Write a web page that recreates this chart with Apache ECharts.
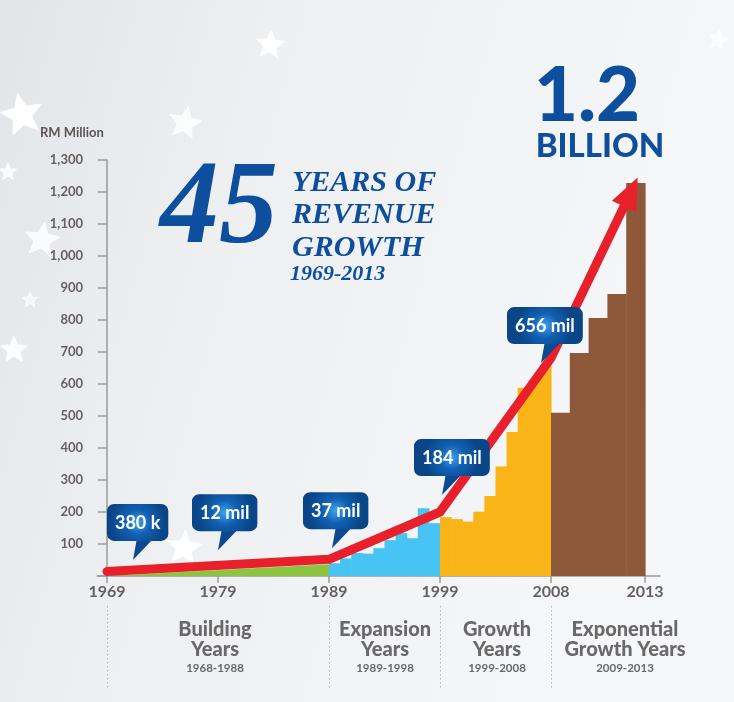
<!DOCTYPE html>
<html><head><meta charset="utf-8">
<script src="https://cdn.jsdelivr.net/npm/echarts@6/dist/echarts.min.js"></script>
<style>html,body{margin:0;padding:0;background:#f3f4f5}#c{width:734px;height:702px}</style>
</head><body><div id="c"></div>
<script>
// ---------------- DATA ----------------
const tickLabels = ['1969','1979','1989','1999','2008','2013'];
const buildingYears = ['1969','1989'];
const buildingValues = [0.38, 37];
const expansionYears = ['1989','1990','1991','1992','1993','1994','1995','1996','1997','1998'];
const expansionValues = [40, 55, 72, 70, 87, 112, 134, 118, 212, 165];
const growthYears = ['1999','2000','2001','2002','2003','2004','2005','2006','2007','2008'];
const growthValues = [184, 178, 170, 201, 250, 342, 450, 588, 612, 656];
const exponentialYears = ['2009','2010','2011','2012','2013'];
const exponentialValues = [510, 697, 806, 881, 1228];
const trendYears = ['1969','1989','1999','2008','2013'];
const trendValues = [14, 52, 200, 681, 1200];
const calloutYears = ['1969','1979','1989','1999','2008'];
const calloutValues = [0.38, 12, 37, 184, 656];
const calloutLabels = ['380 k','12 mil','37 mil','184 mil','656 mil'];
const eraNames = [['Building','Years'],['Expansion','Years'],['Growth','Years'],['Exponential','Growth Years']];
const eraRanges = ['1968-1988','1989-1998','1999-2008','2009-2013'];

// ---------------- LAYOUT / STYLE ----------------
const POS = {'1969':0,'1979':10,'1989':20,'1999':30,'2008':40,'2013':48.47};
const ARROW_INSET = 1.27;
const BLUE = '#0d4f9e', RED = '#e8202b', GREEN = '#8cc43f', SKY = '#48c4f4', ORANGE = '#f9b418', BROWN = '#8e593a';
const BAR_COLORS = [SKY, ORANGE, BROWN];
const AXIS_GREY = '#9b9b9b', TXT = '#665f5f';
const CALLOUT_OFFSETS = [[26,-16,-26],[0,-22,-26],[3,-16,-29],[2,-22,-28],[-10,-3,-34]];

function segBars(values, start, end, colorIdx){
  const w = (end - start) / values.length;
  return values.map((v,i)=>[start + i*w, start + (i+1)*w, v, colorIdx]);
}
const barData = [].concat(
  segBars(expansionValues, POS['1989'], POS['1999'], 0),
  segBars(growthValues, POS['1999'], POS['2008'], 1),
  segBars(exponentialValues, POS['2008'], POS['2013'], 2)
);
const tickPosList = tickLabels.map(t=>POS[t]);
function labelFor(v){
  let best = 0, d = 1e9;
  tickPosList.forEach((p,i)=>{ if (Math.abs(p-v) < d){ d = Math.abs(p-v); best = i; } });
  return tickLabels[best];
}

const mctx = document.createElement('canvas').getContext('2d');
mctx.font = 'bold 18px Lato';

function renderBar(params, api){
  const a = api.coord([api.value(0), api.value(2)]);
  const b = api.coord([api.value(1), 0]);
  return {type:'rect', shape:{x:a[0], y:a[1], width:b[0]-a[0]+0.6, height:b[1]-a[1]},
          style:{fill: BAR_COLORS[api.value(3)]}};
}
function renderCallout(params, api){
  const idx = api.value(2);
  const p = api.coord([api.value(0), api.value(1)]);
  const off = CALLOUT_OFFSETS[idx];
  const tx = p[0] + off[0], ty = p[1] + off[1];
  const label = calloutLabels[idx];
  const tw = mctx.measureText(label).width;
  const bw = tw + 16, bh = 37;
  const bx = tx + off[2], by = ty - 19 - bh;
  return {type:'group', children:[
    {type:'polygon', shape:{points:[[tx,ty],[tx+4,by+bh-3],[tx+21,by+bh-3]]}, style:{fill:'#0b4a90'}},
    {type:'rect', shape:{x:bx,y:by,width:bw,height:bh,r:7},
     style:{fill:new echarts.graphic.RadialGradient(0.5,0.5,0.75,[
       {offset:0,color:'#3ea2ec'},{offset:0.45,color:'#1160b2'},{offset:1,color:'#0a4587'}])}},
    {type:'text', style:{text:label, x:bx+bw/2, y:by+bh/2+1, align:'center', verticalAlign:'middle',
      fill:'#ffffff', fontSize:18, fontWeight:'bold', fontFamily:'Lato'}}
  ]};
}

const trendData = trendYears.map((y,i)=>{
  const last = i === trendYears.length-1;
  const x = last ? POS[y] - ARROW_INSET : POS[y];
  return last ? {value:[x, trendValues[i]], symbol:'triangle', symbolSize:[27,32], symbolRotate:-25, itemStyle:{color:RED}}
              : {value:[x, trendValues[i]], symbol:'none'};
});

const chart = echarts.init(document.getElementById('c'), null, {renderer:'canvas'});
chart.setOption({
  animation:false,
  backgroundColor:new echarts.graphic.LinearGradient(0,0,1,0.3,[
    {offset:0,color:'#e3e4e7'},{offset:0.35,color:'#eeeff1'},{offset:1,color:'#f6f7f8'}]),
  grid:{left:97, right:74, top:160, bottom:126, containLabel:false},
  xAxis:{type:'value', min:-0.9, max:49.82,
    splitLine:{show:false},
    axisLine:{show:true, onZero:false, lineStyle:{color:AXIS_GREY, width:1.5}},
    axisTick:{show:true, customValues:tickPosList, length:7, lineStyle:{color:AXIS_GREY, width:1.5}},
    axisLabel:{customValues:tickPosList, formatter:v=>labelFor(v), margin:8, color:TXT,
      fontSize:16, fontWeight:'bold', fontFamily:'Lato'}},
  yAxis:{type:'value', min:0, max:1300, interval:100,
    splitLine:{show:false},
    axisLine:{show:true, lineStyle:{color:AXIS_GREY, width:1.5}},
    axisTick:{show:true, length:9, lineStyle:{color:AXIS_GREY, width:1.5}},
    axisLabel:{margin:14, color:TXT, fontSize:13, fontWeight:'bold', fontFamily:'Lato',
      formatter:v=> v===0 ? '' : v.toLocaleString('en-US')}},
  series:[
    {type:'line', data:buildingYears.map((y,i)=>[POS[y], buildingValues[i]]), symbol:'none',
     lineStyle:{width:0}, areaStyle:{color:GREEN, opacity:1}, z:2, silent:true},
    {type:'custom', renderItem:renderBar, data:barData, encode:{x:[0,1], y:2}, z:2, silent:true},
    {type:'line', data:trendData, symbol:'triangle', showSymbol:true,
     lineStyle:{color:RED, width:9, cap:'round', join:'round'}, itemStyle:{color:RED}, z:4, silent:true},
    {type:'custom', renderItem:renderCallout, clip:false,
     data:calloutYears.map((y,i)=>[POS[y], calloutValues[i], i]), encode:{x:0, y:1}, z:6, silent:true}
  ]
});

// ---------------- DECORATION & TEXT ----------------
function star(cx,cy,r,rot){
  const pts=[];
  for(let i=0;i<10;i++){
    const a=-Math.PI/2+i*Math.PI/5+(rot||0);
    const rr=i%2?r*0.45:r;
    pts.push([cx+rr*Math.cos(a), cy+rr*Math.sin(a)]);
  }
  return pts;
}
const g = [];
[[270,45,15,0.1,1],[22,115,22,-0.2,1],[185,123,17,0.2,0.8],[42,240,18,0.15,0.8],[14,350,14,0,0.9],
 [184,548,18,0.1,1],[8,172,9,0,0.8],[718,40,10,0.2,0.7],[30,300,8,0,0.6]].forEach(s=>{
  g.push({type:'polygon', z:0, silent:true, shape:{points:star(s[0],s[1],s[2],s[3])},
    style:{fill:'rgba(255,255,255,'+s[4]+')', stroke:'rgba(255,255,255,0.9)', lineWidth:1}});
});
// era separators
['1969','1989','1999','2008'].forEach(y=>{
  const x = Math.round(chart.convertToPixel({xAxisIndex:0}, POS[y])) + 0.5;
  g.push({type:'line', z:1, silent:true, shape:{x1:x,y1:606,x2:x,y2:690},
    style:{stroke:'#b4b4b4', lineWidth:1, lineDash:[1.5,2.5]}});
});
const eraCenters = [215, 385, 497, 625];
eraNames.forEach((n,i)=>{
  g.push({type:'text', z:10, silent:true, style:{text:n[0], x:eraCenters[i], y:630, align:'center', verticalAlign:'middle',
    fill:'#6a6868', fontSize:20, fontWeight:'900', fontFamily:'Lato'}});
  g.push({type:'text', z:10, silent:true, style:{text:n[1], x:eraCenters[i], y:650, align:'center', verticalAlign:'middle',
    fill:'#6a6868', fontSize:20, fontWeight:'900', fontFamily:'Lato'}});
  g.push({type:'text', z:10, silent:true, style:{text:eraRanges[i], x:eraCenters[i], y:668, align:'center', verticalAlign:'middle',
    fill:'#6a6868', fontSize:11.5, fontWeight:'bold', fontFamily:'Lato'}});
});
// axis unit
g.push({type:'text', z:10, silent:true, style:{text:'RM Million', x:40, y:133, align:'left', verticalAlign:'middle',
  fill:'#5e5656', fontSize:13, fontWeight:'bold', fontFamily:'Lato'}});
// title
g.push({type:'text', z:10, silent:true, style:{text:'45', x:160, y:212, align:'left', verticalAlign:'middle',
  fill:BLUE, fontSize:118, fontWeight:'bold', fontStyle:'italic', fontFamily:'Liberation Serif'}});
[['YEARS OF',183],['REVENUE',215],['GROWTH',248]].forEach(t=>{
  g.push({type:'text', z:10, silent:true, style:{text:t[0], x:292, y:t[1], align:'left', verticalAlign:'middle',
    fill:BLUE, fontSize:30, fontWeight:'bold', fontStyle:'italic', fontFamily:'Liberation Serif'}});
});
g.push({type:'text', z:10, silent:true, style:{text:'1969-2013', x:290, y:274, align:'left', verticalAlign:'middle',
  fill:BLUE, fontSize:22, fontWeight:'bold', fontStyle:'italic', fontFamily:'Liberation Serif'}});
g.push({type:'text', z:10, silent:true, style:{text:'1.2', x:587, y:96, align:'center', verticalAlign:'middle',
  fill:BLUE, fontSize:76, fontWeight:'900', fontFamily:'Lato'}});
g.push({type:'text', z:10, silent:true, style:{text:'BILLION', x:600, y:146, align:'center', verticalAlign:'middle',
  fill:BLUE, fontSize:33, fontWeight:'900', fontFamily:'Lato'}});
chart.setOption({graphic:{elements:g}});
</script>
</body></html>
